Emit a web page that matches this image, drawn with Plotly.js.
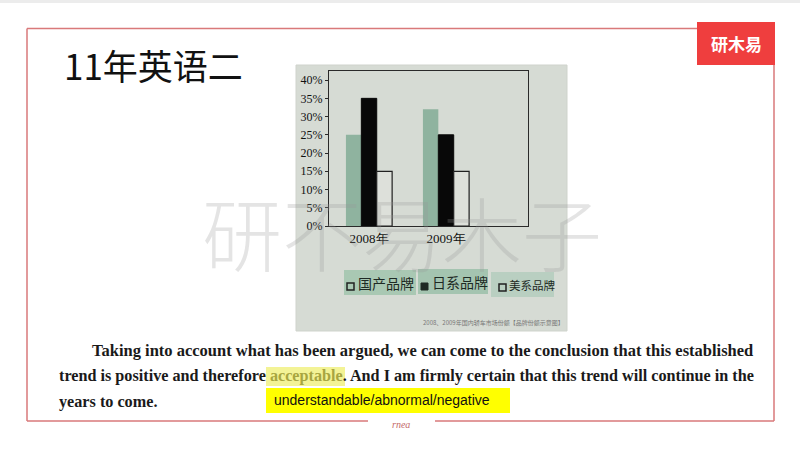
<!DOCTYPE html>
<html>
<head>
<meta charset="utf-8">
<script src="https://cdn.plot.ly/plotly-3.0.1.min.js"></script>
<style>html,body{margin:0;padding:0;background:#fff;}#chart{width:800px;height:450px;}</style>
</head>
<body>
<div id="chart"></div>
<script>
// ---- data ----
var categories = ["2008年", "2009年"];
var seriesNames = ["国产品牌", "日系品牌", "美系品牌"];
var domestic = [25, 32];
var japanese = [35, 25];
var american = [15, 15];
var yTickValues = [0, 5, 10, 15, 20, 25, 30, 35, 40];
var yTickLabels = ["0%", "5%", "10%", "15%", "20%", "25%", "30%", "35%", "40%"];
var slideTitle = "11年英语二";
var captionText = "2008、2009年国内轿车市场份额【品牌份额示意图】";
var watermark = "研不易木子";
var line1 = "Taking into account what has been argued, we can come to the conclusion that this established";
var line2a = "trend is positive and therefore ";
var line2b = "acceptable";
var line2c = ". And I am firmly certain that this trend will continue in the";
var line3 = "years to come.";
var boxText = "understandable/abnormal/negative";
var logoText = "研木易";
var footerText = "rnea";

// ---- helpers (pixel -> paper) ----
var W = 800, H = 450;
function px(x){ return x / W; }
function py(y){ return 1 - y / H; }

var chartBg = "#d6dbd4";
var green = "#8fb39f";

var traces = [
  {type: "bar", x: categories, y: domestic, name: seriesNames[0],
   marker: {color: green, line: {width: 0}}},
  {type: "bar", x: categories, y: japanese, name: seriesNames[1],
   marker: {color: "#080808", line: {color: "#080808", width: 1}}},
  {type: "bar", x: categories, y: american, name: seriesNames[2],
   marker: {color: "#dde0da", line: {color: "#202020", width: 1.2}}}
];

var shapes = [];
// chart picture background
shapes.push({type: "rect", xref: "paper", yref: "paper", x0: px(296), x1: px(567), y0: py(331), y1: py(65),
  fillcolor: chartBg, line: {color: "#cfd3cc", width: 1}, layer: "below"});
// slide frame
var frameColor = "#d9797a";
shapes.push({type: "line", xref: "paper", yref: "paper", x0: px(27), x1: px(697), y0: py(28.5), y1: py(28.5), line: {color: frameColor, width: 1.5}});
shapes.push({type: "line", xref: "paper", yref: "paper", x0: px(27), x1: px(27), y0: py(28.5), y1: py(421), line: {color: frameColor, width: 1.5}});
shapes.push({type: "line", xref: "paper", yref: "paper", x0: px(774), x1: px(774), y0: py(28.5), y1: py(421), line: {color: frameColor, width: 1.5}});
shapes.push({type: "line", xref: "paper", yref: "paper", x0: px(27), x1: px(368), y0: py(421), y1: py(421), line: {color: frameColor, width: 1.5}});
shapes.push({type: "line", xref: "paper", yref: "paper", x0: px(435), x1: px(774), y0: py(421), y1: py(421), line: {color: frameColor, width: 1.5}});
// top gray strip
shapes.push({type: "rect", xref: "paper", yref: "paper", x0: 0, x1: 1, y0: py(3), y1: 1, fillcolor: "#ececec", line: {width: 0}});
// logo box
shapes.push({type: "rect", xref: "paper", yref: "paper", x0: px(697), x1: px(775), y0: py(65), y1: py(22), fillcolor: "#ef3e3e", line: {width: 0}});
// legend boxes
var legBoxes = [[344, 416, 270, 295, "#a9c8b3"], [418, 488, 269, 294, "#a4c4b0"], [491, 554, 272, 297, "#b9cfc1"]];
legBoxes.forEach(function(b){
  shapes.push({type: "rect", xref: "paper", yref: "paper", x0: px(b[0]), x1: px(b[1]), y0: py(b[3]), y1: py(b[2]), fillcolor: b[4], line: {width: 0}});
});
// legend markers
shapes.push({type: "rect", xref: "paper", yref: "paper", x0: px(347), x1: px(354), y0: py(290), y1: py(283), fillcolor: "rgba(0,0,0,0)", line: {color: "#202020", width: 1.5}});
shapes.push({type: "rect", xref: "paper", yref: "paper", x0: px(421), x1: px(428), y0: py(290), y1: py(283), fillcolor: "#1e2a24", line: {color: "#1e2a24", width: 1}});
shapes.push({type: "rect", xref: "paper", yref: "paper", x0: px(499), x1: px(506), y0: py(291), y1: py(284), fillcolor: "rgba(0,0,0,0)", line: {color: "#202020", width: 1.5}});
// highlight & yellow box
shapes.push({type: "rect", xref: "paper", yref: "paper", x0: px(266), x1: px(345), y0: py(386), y1: py(367), fillcolor: "#f3f396", line: {width: 0}, layer: "below"});
shapes.push({type: "rect", xref: "paper", yref: "paper", x0: px(266), x1: px(510), y0: py(413), y1: py(388), fillcolor: "#ffff00", line: {width: 0}});

var serif = "Liberation Serif, Times New Roman, serif";
var cjk = "Noto Sans CJK SC, sans-serif";
var annotations = [
  {text: slideTitle, x: px(62), y: py(64), xanchor: "left", yanchor: "middle", font: {family: cjk, size: 35, color: "#111"}},
  {text: "<b>" + logoText + "</b>", x: px(736), y: py(44), xanchor: "center", yanchor: "middle", font: {family: cjk, size: 17, color: "#fff"}},
  {text: watermark, x: px(402), y: py(230), xanchor: "center", yanchor: "middle", font: {family: cjk, size: 80, color: "rgba(150,150,150,0.26)", weight: 300}},
  {text: seriesNames[0], x: px(356), y: py(283), xanchor: "left", yanchor: "middle", font: {family: cjk, size: 14, color: "#1e2a24"}},
  {text: seriesNames[1], x: px(430), y: py(282), xanchor: "left", yanchor: "middle", font: {family: cjk, size: 14, color: "#1e2a24"}},
  {text: seriesNames[2], x: px(507), y: py(285), xanchor: "left", yanchor: "middle", font: {family: cjk, size: 11.5, color: "#1e2a24"}},
  {text: captionText, x: px(566), y: py(322), xanchor: "right", yanchor: "middle", font: {family: cjk, size: 6, color: "#777"}},
  {text: "<b>" + line1 + "</b>", x: px(90), y: py(350), xanchor: "left", yanchor: "middle", font: {family: serif, size: 16.5, color: "#1a1a1a"}},
  {text: "<b>" + line2a + "<span style=\"color:#a8a640\">" + line2b + "</span>" + line2c + "</b>", x: px(57), y: py(376), xanchor: "left", yanchor: "middle", font: {family: serif, size: 16.2, color: "#1a1a1a"}},
  {text: "<b>" + line3 + "</b>", x: px(57), y: py(402), xanchor: "left", yanchor: "middle", font: {family: serif, size: 16.2, color: "#1a1a1a"}},
  {text: boxText, x: px(272), y: py(400), xanchor: "left", yanchor: "middle", font: {family: "Liberation Sans, Arial, sans-serif", size: 14, color: "#111"}},
  {text: "<i>" + footerText + "</i>", x: px(401), y: py(424), xanchor: "center", yanchor: "middle", font: {family: serif, size: 10, color: "#c46a6a"}}
].map(function(a){ a.xref = "paper"; a.yref = "paper"; a.showarrow = false; return a; });

var layout = {
  width: W, height: H,
  margin: {l: 0, r: 0, t: 0, b: 0},
  paper_bgcolor: "#ffffff",
  plot_bgcolor: "rgba(0,0,0,0)",
  showlegend: false,
  barmode: "group",
  bargap: 0.4,
  bargroupgap: 0,
  xaxis: {
    domain: [px(329), px(528)],
    type: "category",
    range: [-0.52, 2.065],
    showline: true, mirror: true, linecolor: "#2a2a2a", linewidth: 1,
    ticks: "", showgrid: false, zeroline: false,
    tickfont: {family: serif, size: 13, color: "#111"}
  },
  yaxis: {
    domain: [py(226), py(71)],
    range: [0, 42.5],
    tickvals: yTickValues, ticktext: yTickLabels,
    showline: true, mirror: true, linecolor: "#2a2a2a", linewidth: 1,
    ticks: "outside", ticklen: 3, tickcolor: "#2a2a2a",
    showgrid: false, zeroline: false,
    tickfont: {family: serif, size: 12, color: "#111"}
  },
  shapes: shapes,
  annotations: annotations
};

Plotly.newPlot("chart", traces, layout, {displayModeBar: false, staticPlot: true});
</script>
</body>
</html>
